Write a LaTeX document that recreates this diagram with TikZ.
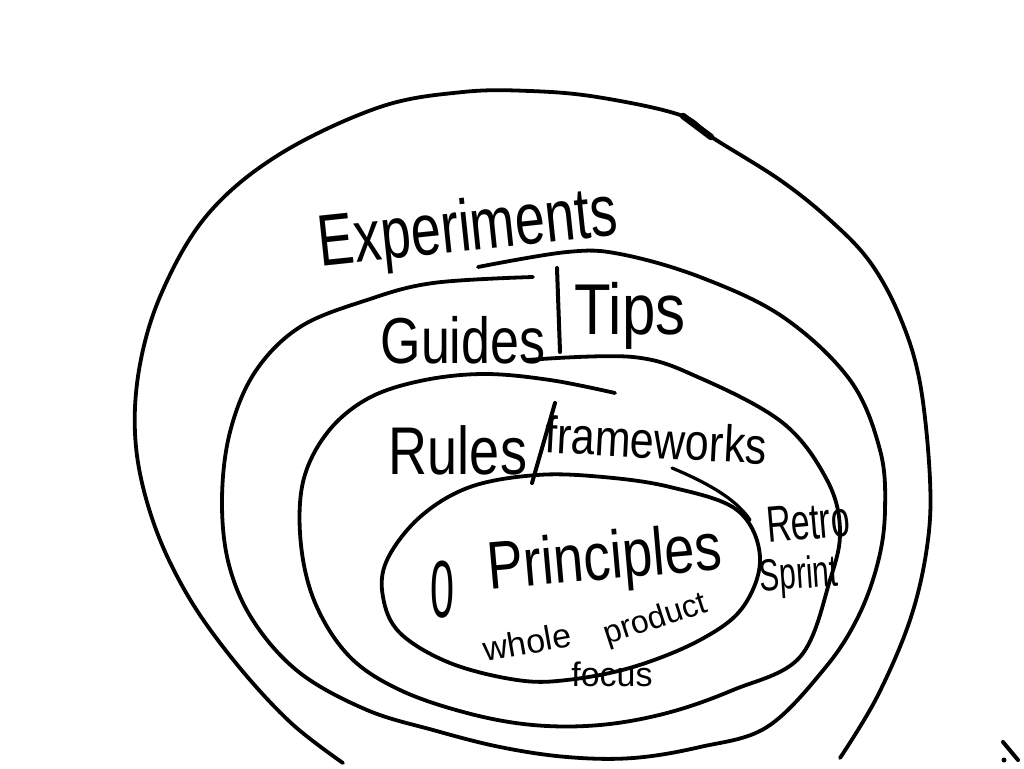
\documentclass[tikz,border=0pt]{standalone}
\usepackage{fontspec}
\setmainfont{Liberation Sans}
\begin{document}
\begin{tikzpicture}[x=1pt,y=-1pt,
  pen/.style={line width=3.8pt, line cap=round, line join=round, black},
  hand/.style={inner sep=0pt, black},
]
\useasboundingbox[fill=white] (0,0) rectangle (1024,768);

% outer region (Experiments), open at the bottom
\draw[pen] plot[smooth, tension=0.6] coordinates {
 (343,763) (290,722) (235,662) (188,596) (154,524) (136,447) (139,370)
 (162,292) (208,214) (280,154) (380,107) (463,92) (530,91) (597,97) (680,115)
 (713,138) (780,180) (830,220) (870,262) (900,317) (920,383) (930,480) (927,547)
 (910,620) (877,697) (840,758)};
\draw[line width=6.5pt, line cap=round] (683,116) -- (711,137);

% second region (Guides | Tips)
\draw[pen] plot[smooth, tension=0.6] coordinates {
 (478,267) (567,252) (620,254) (700,277) (783,317) (850,380) (880,450)
 (885,510) (878,562) (858,617) (825,668) (767,727) (700,747) (633,758)
 (567,757) (500,747) (433,730) (367,710) (300,673) (254,622) (229,565)
 (222,500) (230,432) (255,372) (300,327) (367,300) (433,283) (533,277)};

% third region (Rules / frameworks)
\draw[pen] plot[smooth, tension=0.6] coordinates {
 (527,360) (633,357) (700,378) (783,423) (827,480) (840,530) (830,580)
 (800,657) (733,690) (667,713) (600,725) (533,725) (467,713) (400,690)
 (350,657) (316,605) (301,545) (303,482) (327,433) (367,399) (420,381)
 (483,374) (550,380) (615,393)};

% inner region (Principles)
\draw[pen] plot[smooth cycle, tension=0.6] coordinates {
 (537,475) (603,477) (670,487) (737,510) (760,557) (743,607) (700,640)
 (633,667) (567,680) (517,680) (450,663) (400,633) (383,597) (387,560)
 (420,517) (470,487)};

% pointer stroke from the inner ellipse towards "Retro"
\coordinate (rs) at (672,468);
\coordinate (re) at (750,520);
\draw[line width=3.2pt, line cap=round] (rs) .. controls (715,486) and (738,502) .. (re);

% separators
\coordinate (g1) at (557,268); \coordinate (g2) at (560,352);
\draw[line width=4pt, line cap=round] (g1) -- (g2);
\coordinate (r1) at (555,403); \coordinate (r2) at (532,483);
\draw[line width=4pt, line cap=round] (r1) -- (r2);

% texts
\node[hand, rotate=6, yscale=1.35] (exp) at (468,232) {\fontsize{54}{60}\selectfont Experiments};
\node[hand, yscale=1.25] (gui) at (463,340) {\fontsize{52}{60}\selectfont Guides};
\node[hand, yscale=1.2] (tip) at (630,316) {\fontsize{60}{66}\selectfont Tips};
\node[hand, yscale=1.25] (rul) at (458,450) {\fontsize{54}{60}\selectfont Rules};
\node[hand, rotate=-3, yscale=1.2] (fra) at (656,440) {\fontsize{43}{50}\selectfont frameworks};
\node[hand, xscale=0.8, yscale=1.5] (zer) at (443,590) {\fontsize{54}{60}\selectfont 0};
\node[hand, rotate=5, yscale=1.25] (pri) at (605,562) {\fontsize{54}{60}\selectfont Principles};
\node[hand, rotate=10] (who) at (527,642) {\fontsize{34}{40}\selectfont whole};
\node[hand, rotate=18] (prd) at (656,620) {\fontsize{32}{38}\selectfont product};
\node[hand] (foc) at (612,674) {\fontsize{34}{40}\selectfont focus};
\node[hand, rotate=5, yscale=1.5] (ret) at (808,522) {\fontsize{34}{40}\selectfont Retro};
\node[hand, rotate=4, yscale=1.5] (spr) at (799,577) {\fontsize{30}{36}\selectfont Sprint};

% small mark at the bottom right corner
\coordinate (m1) at (1003,742); \coordinate (m2) at (1018,760);
\draw[line width=4pt, line cap=round] (m1) -- (m2);
\fill (1004,760) circle (2.5pt);
\end{tikzpicture}
\end{document}
